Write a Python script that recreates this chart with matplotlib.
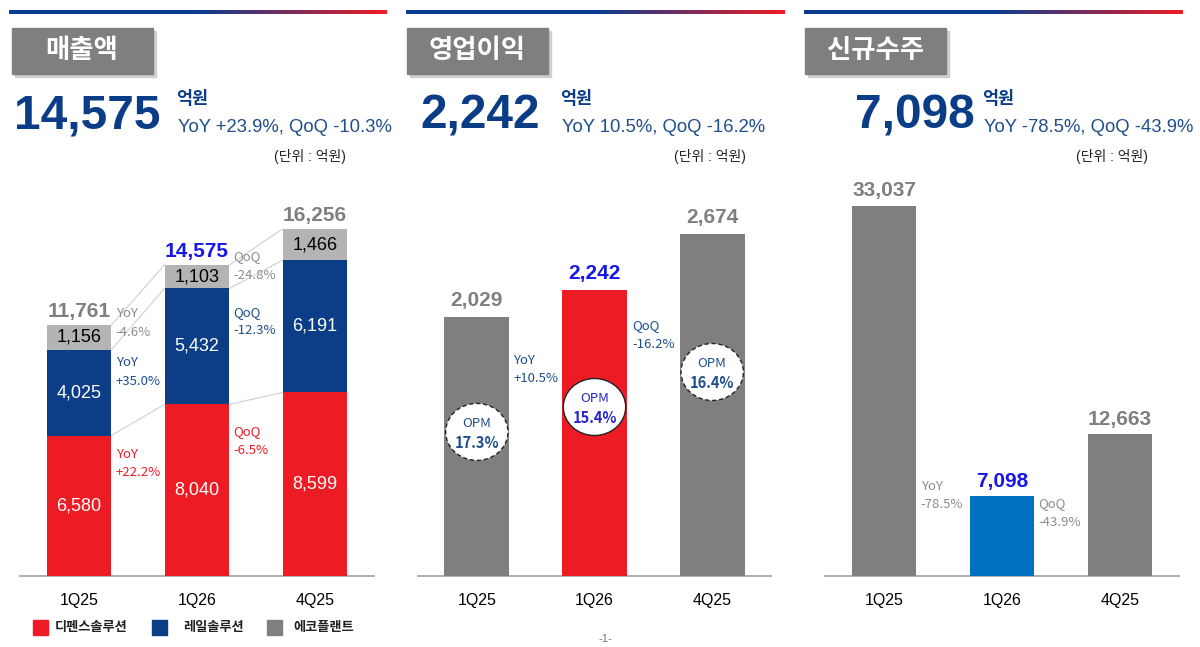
import matplotlib
matplotlib.use('Agg')
import numpy as np
import matplotlib.pyplot as plt
from matplotlib.patches import Rectangle, Ellipse
from matplotlib.colors import LinearSegmentedColormap

plt.rcParams['font.family'] = ['Liberation Sans', 'Noto Sans CJK KR']

# data
quarters = ['1Q25', '1Q26', '4Q25']
defense = [6580, 8040, 8599]      # 디펜스솔루션
rail = [4025, 5432, 6191]         # 레일솔루션
eco = [1156, 1103, 1466]          # 에코플랜트
op_profit = [2029, 2242, 2674]    # 영업이익
opm = ['17.3%', '15.4%', '16.4%']
orders = [33037, 7098, 12663]     # 신규수주

titles = ['매출액', '영업이익', '신규수주']
headline = ['14,575', '2,242', '7,098']
headline_sub = ['YoY +23.9%, QoQ -10.3%', 'YoY 10.5%, QoQ -16.2%', 'YoY -78.5%, QoQ -43.9%']

# colours
RED = '#ed1c24'
NAVY = '#0b3e86'
LGRAY = '#b4b4b4'
GRAY = '#7f7f7f'
BLUE = '#0070c0'
HL = '#1717e6'
TXT_NAVY = '#1f4e8c'
NOTE_FONT = ['Noto Sans CJK KR']
NOTE_SIZE = 9.5
NOTE_LS = 1.55

W, H = 1200, 647
fig = plt.figure(figsize=(12, 6.47), dpi=100)


def fx(x):
    return x / W


def fy(y):
    return 1 - y / H


# ---- headers ----
cmap = LinearSegmentedColormap.from_list('strip', [(0, '#0a3d8f'), (0.5, '#0a3d8f'), (1, '#ee1c25')])
grad = np.linspace(0, 1, 256).reshape(1, -1)
strip_x = [(9, 387), (406, 785), (804, 1183)]
box_x = [12, 407, 805]
num_x = [14, 420, 855]
unit_x = [176, 560, 982]
unit_r = [346, 746, 1148]

for i in range(3):
    x0, x1 = strip_x[i]
    ax_s = fig.add_axes([fx(x0), fy(14), (x1 - x0) / W, 4 / H])
    ax_s.imshow(grad, aspect='auto', cmap=cmap)
    ax_s.axis('off')

    bx = box_x[i]
    fig.patches.append(Rectangle((fx(bx + 3), fy(77)), 141 / W, 46 / H, transform=fig.transFigure,
                                 color='#cfcfcf', zorder=0))
    fig.patches.append(Rectangle((fx(bx), fy(74)), 141 / W, 46 / H, transform=fig.transFigure,
                                 color=GRAY, zorder=1))
    fig.text(fx(bx + 70), fy(51), titles[i], ha='center', va='center', color='white',
             fontsize=19, weight='bold')

    fig.text(fx(num_x[i]), fy(128), headline[i], ha='left', va='baseline', color='#0b3d86',
             fontsize=34.5, weight='bold')
    fig.text(fx(unit_x[i]), fy(104), '억원', ha='left', va='baseline', color='#0b3d86',
             fontsize=12.5, weight='bold')
    fig.text(fx(unit_x[i] + 2), fy(132), headline_sub[i], ha='left', va='baseline', color=TXT_NAVY,
             fontsize=13.3)
    fig.text(fx(unit_r[i]), fy(157), '(단위 : 억원)', ha='right', va='center', color='#222222',
             fontsize=10)

# ---- axes ----
bottom = 71 / H
height = 396 / H
ax1 = fig.add_axes([fx(20), bottom, 354 / W, height])
ax2 = fig.add_axes([fx(418), bottom, 353 / W, height])
ax3 = fig.add_axes([fx(825), bottom, 354 / W, height])

x = np.arange(3)
w = 0.55

for ax in (ax1, ax2, ax3):
    ax.set_xlim(-0.5, 2.5)
    for s in ('top', 'right', 'left'):
        ax.spines[s].set_visible(False)
    ax.spines['bottom'].set_color('#a6a6a6')
    ax.spines['bottom'].set_linewidth(1.3)
    ax.set_yticks([])
    ax.set_xticks(x)
    ax.set_xticklabels(quarters, fontsize=11.5)
    ax.tick_params(axis='x', length=0, pad=12)
    ax.patch.set_alpha(0)

# panel 1: 매출액 stacked
ax1.set_ylim(0, 18550)
lvl1 = np.array(defense)
lvl2 = lvl1 + np.array(rail)
lvl3 = lvl2 + np.array(eco)
ax1.bar(x, defense, width=w, color=RED, zorder=3)
ax1.bar(x, rail, width=w, bottom=lvl1, color=NAVY, zorder=3)
ax1.bar(x, eco, width=w, bottom=lvl2, color=LGRAY, zorder=3)

for i in range(2):
    for lev in (lvl1, lvl2, lvl3):
        ax1.plot([x[i] + w / 2, x[i + 1] - w / 2], [lev[i], lev[i + 1]], color='#d0d0d0', lw=0.8, zorder=2)

for i in range(3):
    ax1.text(x[i], defense[i] / 2, f'{defense[i]:,}', ha='center', va='center', color='white', fontsize=13, zorder=4)
    ax1.text(x[i], lvl1[i] + rail[i] / 2, f'{rail[i]:,}', ha='center', va='center', color='white', fontsize=13, zorder=4)
    ax1.text(x[i], lvl2[i] + eco[i] / 2, f'{eco[i]:,}', ha='center', va='center', color='black', fontsize=13, zorder=4)
    ax1.annotate(f'{lvl3[i]:,}', (x[i], lvl3[i]), xytext=(0, 3), textcoords='offset points',
                 ha='center', va='bottom', fontsize=15, weight='bold',
                 color=HL if i == 1 else GRAY, annotation_clip=False)

notes1 = [
    (0.31, 12600, 'YoY\n-4.6%', '#8c8c8c'),
    (0.31, 10300, 'YoY\n+35.0%', TXT_NAVY),
    (0.31, 6000, 'YoY\n+22.2%', RED),
    (1.31, 15250, 'QoQ\n-24.8%', '#8c8c8c'),
    (1.31, 12650, 'QoQ\n-12.3%', TXT_NAVY),
    (1.31, 7050, 'QoQ\n-6.5%', RED),
]
for nx, ny, t, c in notes1:
    ax1.text(nx, ny, t, ha='left', va='top', fontsize=NOTE_SIZE, color=c, linespacing=NOTE_LS, family=NOTE_FONT)

# panel 2: 영업이익
ax2.set_ylim(0, 3100)
ax2.bar(x, op_profit, width=w, color=[GRAY, RED, GRAY], zorder=3)
for i in range(3):
    ax2.annotate(f'{op_profit[i]:,}', (x[i], op_profit[i]), xytext=(0, 5), textcoords='offset points',
                 ha='center', va='bottom', fontsize=15, weight='bold',
                 color=HL if i == 1 else GRAY, annotation_clip=False)

circle_y = [1128, 1323, 1597]
for i in range(3):
    ax2.add_patch(Ellipse((x[i], circle_y[i]), 0.53, 446, facecolor='white', edgecolor='#222222',
                          lw=1.0, ls='-' if i == 1 else (0, (3, 2)), zorder=4))
    c = '#2424d0' if i == 1 else TXT_NAVY
    ax2.annotate('OPM', (x[i], circle_y[i]), xytext=(0, 6), textcoords='offset points',
                 ha='center', va='center', fontsize=9.5, color=c, zorder=5, family=NOTE_FONT)
    ax2.annotate(opm[i], (x[i], circle_y[i]), xytext=(0, -8), textcoords='offset points',
                 ha='center', va='center', fontsize=10.5, weight='bold', color=c, zorder=5,
                 family=NOTE_FONT)

ax2.text(0.31, 1740, 'YoY\n+10.5%', ha='left', va='top', fontsize=NOTE_SIZE, color=TXT_NAVY,
         linespacing=NOTE_LS, family=NOTE_FONT)
ax2.text(1.32, 2010, 'QoQ\n-16.2%', ha='left', va='top', fontsize=NOTE_SIZE, color=TXT_NAVY,
         linespacing=NOTE_LS, family=NOTE_FONT)

# panel 3: 신규수주
ax3.set_ylim(0, 35350)
ax3.bar(x, orders, width=w, color=[GRAY, BLUE, GRAY], zorder=3)
for i in range(3):
    ax3.annotate(f'{orders[i]:,}', (x[i], orders[i]), xytext=(0, 4), textcoords='offset points',
                 ha='center', va='bottom', fontsize=15, weight='bold',
                 color=HL if i == 1 else GRAY, annotation_clip=False)
ax3.text(0.31, 8600, 'YoY\n-78.5%', ha='left', va='top', fontsize=NOTE_SIZE, color='#8c8c8c',
         linespacing=NOTE_LS, family=NOTE_FONT)
ax3.text(1.31, 7050, 'QoQ\n-43.9%', ha='left', va='top', fontsize=NOTE_SIZE, color='#8c8c8c',
         linespacing=NOTE_LS, family=NOTE_FONT)

# legend
leg = [(33, 55, RED, '디펜스솔루션'), (152, 183, NAVY, '레일솔루션'), (267, 293, GRAY, '에코플랜트')]
for sx, tx, c, lab in leg:
    fig.patches.append(Rectangle((fx(sx), fy(635)), 15 / W, 15 / H, transform=fig.transFigure, color=c))
    fig.text(fx(tx), fy(628), lab, ha='left', va='center', fontsize=9.5, weight='bold', color='#222222')

fig.text(fx(605), fy(639), '-1-', ha='center', va='center', fontsize=8, color='#777777')

fig.savefig('out.png', dpi=100)
